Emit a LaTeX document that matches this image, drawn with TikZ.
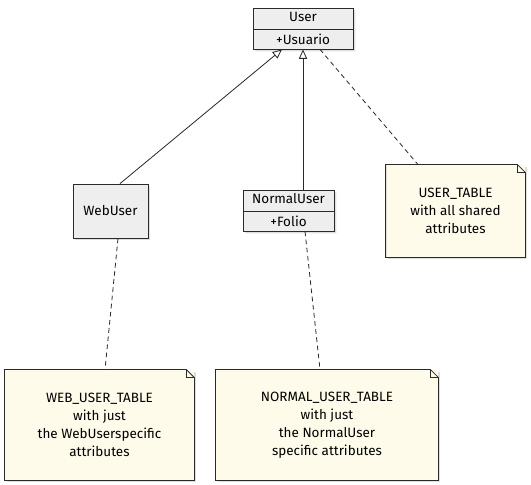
\documentclass[tikz,border=0pt]{standalone}
\usepackage{fontspec}
\setmainfont{Fira Sans}
\usetikzlibrary{arrows.meta,shapes.multipart,shadows,calc}
\definecolor{notefill}{HTML}{FEFBEA}
\definecolor{clsfill}{HTML}{EEEEEE}
\definecolor{ink}{HTML}{2A2A2A}

\begin{document}
\begin{tikzpicture}[x=0.03cm, y=-0.03cm,
  font=\fontsize{11.5}{15.5}\selectfont, draw=ink, line width=0.7pt,
  shadowed/.style={drop shadow={shadow xshift=2pt, shadow yshift=-2pt, opacity=0.25}},
  cls/.style={draw, fill=clsfill, shadowed, align=center},
  clsplit/.style={cls, rectangle split, rectangle split parts=2,
                  text height=8pt, text depth=2.5pt, inner ysep=3.5pt},
  note/.style={fill=notefill, shadowed, align=center},
  inherit/.style={-{Triangle[open, length=8pt, width=7pt]}},
  link/.style={dashed, dash pattern=on 4pt off 3pt}]
  \useasboundingbox (0,0) rectangle (531,485);
  % classes
  \node[clsplit, minimum width=3cm] (user) at (303,28.5)
     {User \nodepart{two} +Usuario};
  \node[cls, minimum width=2.25cm, minimum height=1.62cm] (webuser) at (110.5,211) {WebUser};
  \node[clsplit, minimum width=2.73cm] (normaluser) at (288.5,210.5)
     {NormalUser \nodepart{two} +Folio};
  % notes
  \node[note, minimum width=4.17cm, minimum height=2.76cm] (usertab) at (455.5,211)
     {USER\_TABLE\\with all shared\\attributes};
  \node[note, minimum width=5.67cm, minimum height=3.3cm] (webtab) at (99.5,425)
     {WEB\_USER\_TABLE\\with just\\the WebUserspecific\\attributes};
  \node[note, minimum width=6.66cm, minimum height=3.3cm] (normtab) at (327,425)
     {NORMAL\_USER\_TABLE\\with just\\the NormalUser\\specific attributes};
  \foreach \n in {usertab, webtab, normtab}{
    \draw ($(\n.north east)+(-8,0)$) -- (\n.north west) -- (\n.south west)
      -- (\n.south east) -- ($(\n.north east)+(0,8)$) -- cycle;
    \draw ($(\n.north east)+(-8,0)$) -- ++(0,8) -- ++(8,0);
  }
  % connectors
  \draw[inherit] ($(webuser.north)+(9.5,0)$) -- ($(user.south)+(-21,0)$);
  \draw[inherit] (normaluser.north -| user.south) -- (user.south);
  \draw[link] ($(user.south)+(17,0)$) -- ($(usertab.north)+(-37.5,0)$);
  \draw[link] ($(webuser.south)+(7.5,0)$) -- ($(webtab.north)+(5.5,0)$);
  \draw[link] ($(normaluser.south)+(16.5,0)$) -- ($(normtab.north)+(-7,0)$);
\end{tikzpicture}
\end{document}
